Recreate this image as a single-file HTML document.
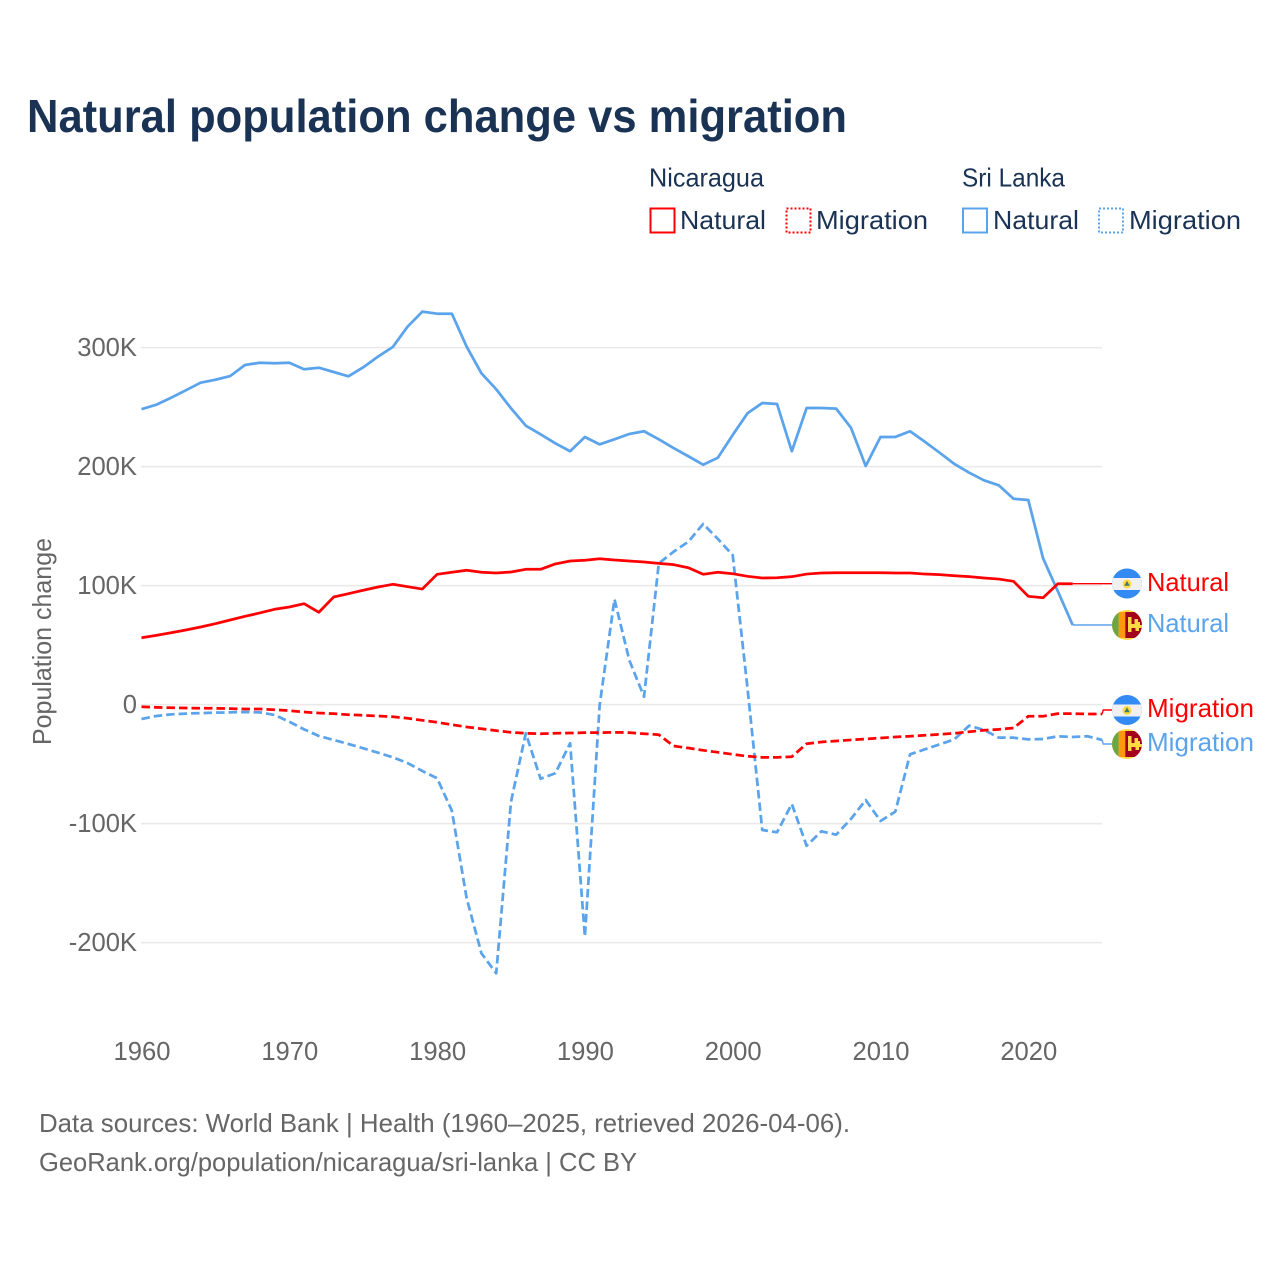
<!DOCTYPE html>
<html lang="en">
<head>
<meta charset="utf-8">
<title>Natural population change vs migration</title>
<style>
html,body{margin:0;padding:0;background:#fff;}
svg{display:block;font-family:"Liberation Sans",sans-serif;}
</style>
</head>
<body>
<svg id="chart" xmlns="http://www.w3.org/2000/svg" width="1280" height="1280" viewBox="0 0 1280 1280">
  <defs>
    <clipPath id="flag-clip"><circle cx="0" cy="0" r="15"/></clipPath>
    <g id="flag-nicaragua">
      <g clip-path="url(#flag-clip)">
        <rect x="-15" y="-15" width="30" height="30" fill="#338af3"/>
        <rect x="-15" y="-5.5" width="30" height="12" fill="#f0f0f0"/>
        <circle cx="0" cy="0.5" r="4.5" fill="#ffda44"/>
        <path d="M-2.8 2.2L0-2.6L2.8 2.2Z" fill="#3f7d6a"/>
      </g>
    </g>
    <g id="flag-sri-lanka">
      <g clip-path="url(#flag-clip)">
        <rect x="-15" y="-15" width="30" height="30" fill="#ffda44"/>
        <rect x="-15" y="-13" width="6.7" height="26" fill="#6da544"/>
        <rect x="-8.3" y="-13" width="6.6" height="26" fill="#ff9811"/>
        <rect x="-1.7" y="-13" width="16.7" height="26" fill="#a2001d"/>
        <path d="M1-8h3.5v7h3v-5h3.5v3h2v3h2v3h-3v3h-3.5v-3h-4v4h-3.5z" fill="#ffda44"/>
      </g>
    </g>
  </defs>

  <rect x="0" y="0" width="1280" height="1280" fill="#ffffff"/>

  <text x="27" y="132" font-size="46" font-weight="700" fill="#1a3354" textLength="820" lengthAdjust="spacingAndGlyphs">Natural population change vs migration</text>

  <g font-size="26" fill="#1a3354">
    <text x="649" y="186.5" textLength="115" lengthAdjust="spacingAndGlyphs">Nicaragua</text>
    <text x="962" y="186.5" textLength="103" lengthAdjust="spacingAndGlyphs">Sri Lanka</text>

    <rect x="650.5" y="208.5" width="24" height="24" fill="none" stroke="#ff0000" stroke-width="2"/>
    <text x="680" y="229" textLength="86" lengthAdjust="spacingAndGlyphs">Natural</text>
    <rect x="786.5" y="208.5" width="24" height="24" fill="none" stroke="#ff0000" stroke-width="2" stroke-dasharray="2 2"/>
    <text x="816" y="229" textLength="112" lengthAdjust="spacingAndGlyphs">Migration</text>

    <rect x="963" y="208.5" width="24" height="24" fill="none" stroke="#5ba4ec" stroke-width="2"/>
    <text x="993" y="229" textLength="86" lengthAdjust="spacingAndGlyphs">Natural</text>
    <rect x="1099" y="208.5" width="24" height="24" fill="none" stroke="#5ba4ec" stroke-width="2" stroke-dasharray="2 2"/>
    <text x="1129" y="229" textLength="112" lengthAdjust="spacingAndGlyphs">Migration</text>
  </g>

  <g id="grid"></g>
  <g id="y-ticks"></g>
  <g id="x-ticks"></g>

  <text transform="translate(51 641.5) rotate(-90)" text-anchor="middle" font-size="25.6" fill="#666666" textLength="207" lengthAdjust="spacingAndGlyphs">Population change</text>

  <g id="series"></g>

  <g font-size="26">
    <use href="#flag-nicaragua" x="1127" y="583.5"/>
    <use href="#flag-sri-lanka" x="1127" y="625"/>
    <use href="#flag-nicaragua" x="1127" y="710"/>
    <use href="#flag-sri-lanka" x="1127" y="744"/>
    <text x="1147" y="591" fill="#ff0000" textLength="82" lengthAdjust="spacingAndGlyphs">Natural</text>
    <text x="1147" y="632" fill="#5ba4ec" textLength="82" lengthAdjust="spacingAndGlyphs">Natural</text>
    <text x="1147" y="717" fill="#ff0000" textLength="107" lengthAdjust="spacingAndGlyphs">Migration</text>
    <text x="1147" y="751" fill="#5ba4ec" textLength="107" lengthAdjust="spacingAndGlyphs">Migration</text>
  </g>

  <g font-size="26" fill="#666666">
    <text x="39" y="1132" textLength="811" lengthAdjust="spacingAndGlyphs">Data sources: World Bank | Health (1960–2025, retrieved 2026-04-06).</text>
    <text x="39" y="1171" textLength="598" lengthAdjust="spacingAndGlyphs">GeoRank.org/population/nicaragua/sri-lanka | CC BY</text>
  </g>
</svg>

<script>
// Chart data (thousands of people)
const startYear = 1960;
const xTickYears = [1960, 1970, 1980, 1990, 2000, 2010, 2020];
const yTickValues = [300, 200, 100, 0, -100, -200];
const yTickLabels = ["300K", "200K", "100K", "0", "-100K", "-200K"];

const nicaraguaNatural = [
  56.2,58.2,60.4,62.7,65.2,68.0,71.1,74.2,77.0,80.1,
  82.0,84.8,77.6,90.4,93.2,96.1,98.8,101.1,99.1,97.1,
  109.5,111.2,112.9,111.2,110.6,111.4,113.7,113.7,118.2,120.7,
  121.3,122.6,121.5,120.7,119.8,118.7,117.6,115.0,109.5,111.2,
  110.0,107.8,106.4,106.6,107.5,109.7,110.6,110.8,110.8,110.8,
  110.8,110.6,110.6,109.7,109.2,108.3,107.5,106.4,105.5,103.6,
  91.0,89.8,101.6,101.6
];
const sriLankaNatural = [
  248.2,252.0,257.9,264.1,270.5,273.0,276.1,285.4,287.3,286.8,
  287.3,281.8,283.1,279.5,275.9,283.4,292.4,300.5,317.6,330.2,
  328.5,328.5,300.8,278.4,265.0,249.0,234.4,227.1,219.6,212.9,
  224.9,218.7,222.9,227.4,229.7,222.9,215.6,208.7,201.6,207.5,
  226.6,244.8,253.4,252.6,212.9,249.2,249.2,248.7,232.7,200.5,
  224.9,224.9,229.7,220.9,211.7,202.2,194.9,188.5,184.3,173.0,
  171.9,122.9,95.2,66.9
];
const nicaraguaMigration = [
  -1.8,-2.3,-2.6,-2.9,-3.1,-3.1,-3.4,-3.7,-3.7,-4.3,
  -5.1,-6.2,-7.1,-7.6,-8.5,-9.0,-9.6,-10.2,-11.5,-13.2,
  -14.9,-16.9,-18.8,-20.3,-21.9,-23.3,-24.1,-24.5,-24.1,-23.9,
  -23.6,-23.6,-23.3,-23.6,-24.5,-25.3,-34.8,-36.5,-38.4,-40.1,
  -41.8,-43.4,-44.3,-44.3,-43.8,-32.9,-31.4,-30.6,-29.7,-28.9,
  -28.1,-27.2,-26.6,-25.8,-25.0,-24.1,-22.8,-21.6,-20.8,-19.7,
  -9.8,-9.8,-7.6,-7.6,-7.9,-7.9
];
const sriLankaMigration = [
  -12.1,-9.6,-8.2,-7.6,-7.1,-6.8,-6.5,-6.2,-6.5,-8.7,
  -14.4,-20.8,-26.4,-29.7,-33.1,-36.7,-40.4,-44.3,-49.1,-55.8,
  -61.9,-89.2,-162.8,-209.0,-225.8,-81.6,-24.1,-62.3,-57.7,-32.5,
  -195.0,-0.3,88.5,37.5,6.6,118.7,128.5,136.9,151.8,139.2,
  125.7,13.9,-105.4,-107.3,-83.5,-118.6,-106.5,-109.3,-96.1,-80.2,
  -97.8,-90.0,-41.8,-37.6,-33.4,-29.2,-17.7,-21.3,-27.8,-27.8,
  -29.2,-28.9,-26.6,-27.2,-26.6,-29.7
];

// Axis functions
const NS = "http://www.w3.org/2000/svg";
function xScale(year) { return 141.5 + (year - 1960) * 14.78; }
function yScale(value) { return 704.6 - value * 1.19; }

const RED = "#ff0000";
const BLUE = "#5ba4ec";
const labelAnchorX = 1112;

function svgEl(tag) { return document.createElementNS(NS, tag); }

// Gridlines and y ticks
const gridGroup = document.getElementById("grid");
const yTickGroup = document.getElementById("y-ticks");
yTickValues.forEach(function (v, i) {
  const line = svgEl("line");
  
  
  line.setAttribute("x1", 141);
  line.setAttribute("x2", 1102);
  line.setAttribute("y1", yScale(v));
  line.setAttribute("y2", yScale(v));
  line.setAttribute("stroke", "#e9e9e9");
  line.setAttribute("stroke-width", "1.5");
  gridGroup.appendChild(line);

  const label = svgEl("text");
  
  
  label.setAttribute("x", 137);
  label.setAttribute("y", yScale(v) + 8.5);
  label.setAttribute("text-anchor", "end");
  label.setAttribute("font-size", "25.6");
  label.setAttribute("fill", "#666666");
  label.textContent = yTickLabels[i];
  yTickGroup.appendChild(label);
});

// X ticks
const xTickGroup = document.getElementById("x-ticks");
xTickYears.forEach(function (year) {
  const label = svgEl("text");
  
  
  label.setAttribute("x", xScale(year) + 0.5);
  label.setAttribute("y", 1060);
  label.setAttribute("text-anchor", "middle");
  label.setAttribute("font-size", "25.6");
  label.setAttribute("fill", "#666666");
  label.textContent = String(year);
  xTickGroup.appendChild(label);
});

// Series
const seriesGroup = document.getElementById("series");

function toPath(values) {
  return values.map(function (v, i) {
    return (i ? "L" : "M") + xScale(startYear + i).toFixed(2) + " " + yScale(v).toFixed(2);
  }).join("");
}

function drawSeries(values, colour, dashed, seriesName, connectorName, labelY) {
  const line = svgEl("path");
  
  
  line.setAttribute("d", toPath(values));
  line.setAttribute("fill", "none");
  line.setAttribute("stroke", colour);
  line.setAttribute("stroke-width", "2.75");
  line.setAttribute("stroke-linejoin", "round");
  if (dashed) line.setAttribute("stroke-dasharray", "8.5 4");
  seriesGroup.appendChild(line);

  const endIdx = values.length - 1;
  const endX = xScale(startYear + endIdx);
  const endY = yScale(values[endIdx]);
  const conn = svgEl("path");
  
  
  conn.setAttribute("d", "M" + endX + " " + endY + "L" + (endX + 1) + " " + labelY + "L" + labelAnchorX + " " + labelY);
  conn.setAttribute("fill", "none");
  conn.setAttribute("stroke", colour);
  conn.setAttribute("stroke-width", "1.4");
  seriesGroup.appendChild(conn);
}

drawSeries(sriLankaNatural, BLUE, false, "line-sri-lanka-natural", "connector-sri-lanka-natural", 625);
drawSeries(sriLankaMigration, BLUE, true, "line-sri-lanka-migration", "connector-sri-lanka-migration", 744);
drawSeries(nicaraguaNatural, RED, false, "line-nicaragua-natural", "connector-nicaragua-natural", 583.7);
drawSeries(nicaraguaMigration, RED, true, "line-nicaragua-migration", "connector-nicaragua-migration", 710);
</script>
</body>
</html>
